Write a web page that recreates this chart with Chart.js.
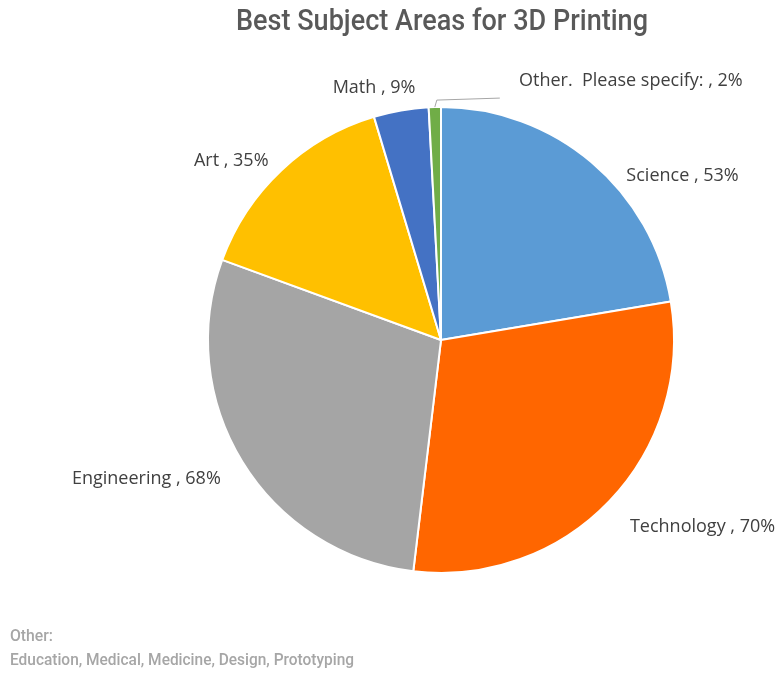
<!DOCTYPE html>
<html>
<head>
<meta charset="utf-8">
<script src="https://cdn.jsdelivr.net/npm/chart.js@4.4.1/dist/chart.umd.min.js"></script>
<style>
  html, body { margin: 0; padding: 0; background: #fff; }
  #wrap { width: 781px; height: 675px; position: relative; }
</style>
</head>
<body>
<div id="wrap"><canvas id="chart"></canvas></div>
<script>
const subjects = ['Science', 'Technology', 'Engineering', 'Art', 'Math', 'Other.  Please specify:']
const percents = [53, 70, 68, 35, 9, 2]
const sliceColors = ['#5B9BD5', '#FF6600', '#A5A5A5', '#FFC000', '#4472C4', '#70AD47']
const chartTitle = 'Best Subject Areas for 3D Printing'
const footNote = ['Other:', 'Education, Medical, Medicine, Design, Prototyping']

// label offsets from the slice's outer mid point (layout only)
const labelShift = [[91, 14], [93, 26], [-96, 17], [-50, -10], [-27, -23], [196, -26]]

const condensedText = (ctx, text, x, y, width, font, color, align) => {
  ctx.save()
  ctx.font = font
  ctx.fillStyle = color
  ctx.textBaseline = 'middle'
  const w = ctx.measureText(text).width
  const k = width / w
  ctx.translate(x, y)
  ctx.scale(k, 1)
  ctx.textAlign = align
  ctx.fillText(text, 0, 0)
  ctx.restore()
}

const piePlugin = {
  id: 'pieLabels',
  afterDraw(chart) {
    const ctx = chart.ctx
    const arcs = chart.getDatasetMeta(0).data

    // title + footnote, squeezed to look like a condensed face
    condensedText(ctx, chartTitle, 442, 22, 412, '500 30px Roboto', '#595959', 'center')
    condensedText(ctx, footNote[0], 10, 637, 43, '500 16px Roboto', '#A6A6A6', 'left')
    condensedText(ctx, footNote[1], 10, 661, 344, '500 16px Roboto', '#A6A6A6', 'left')

    ctx.save()
    ctx.font = '18px "Open Sans"'
    ctx.fillStyle = '#404040'
    ctx.textAlign = 'center'
    ctx.textBaseline = 'middle'
    arcs.forEach((arc, i) => {
      const mid = (arc.startAngle + arc.endAngle) / 2
      const px = arc.x + Math.cos(mid) * arc.outerRadius
      const py = arc.y + Math.sin(mid) * arc.outerRadius
      const [dx, dy] = labelShift[i]
      const txt = subjects[i] + ' , ' + percents[i] + '%'
      ctx.fillText(txt, px + dx, py + dy)
      if (i === arcs.length - 1) {
        ctx.strokeStyle = '#A6A6A6'
        ctx.lineWidth = 1
        ctx.beginPath()
        ctx.moveTo(px, py)
        ctx.lineTo(px + 2, py - 7)
        ctx.lineTo(px + 65, py - 9)
        ctx.stroke()
      }
    })
    ctx.restore()
  }
}

new Chart(document.getElementById('chart'), {
  type: 'pie',
  data: {
    labels: subjects,
    datasets: [{
      data: percents,
      backgroundColor: sliceColors,
      borderColor: '#FFFFFF',
      borderWidth: 2
    }]
  },
  options: {
    responsive: true,
    maintainAspectRatio: false,
    animation: false,
    layout: {
      padding: { left: 207, right: 106, top: 106, bottom: 101 }
    },
    plugins: {
      legend: { display: false },
      tooltip: { enabled: false }
    }
  },
  plugins: [piePlugin]
})
</script>
</body>
</html>
